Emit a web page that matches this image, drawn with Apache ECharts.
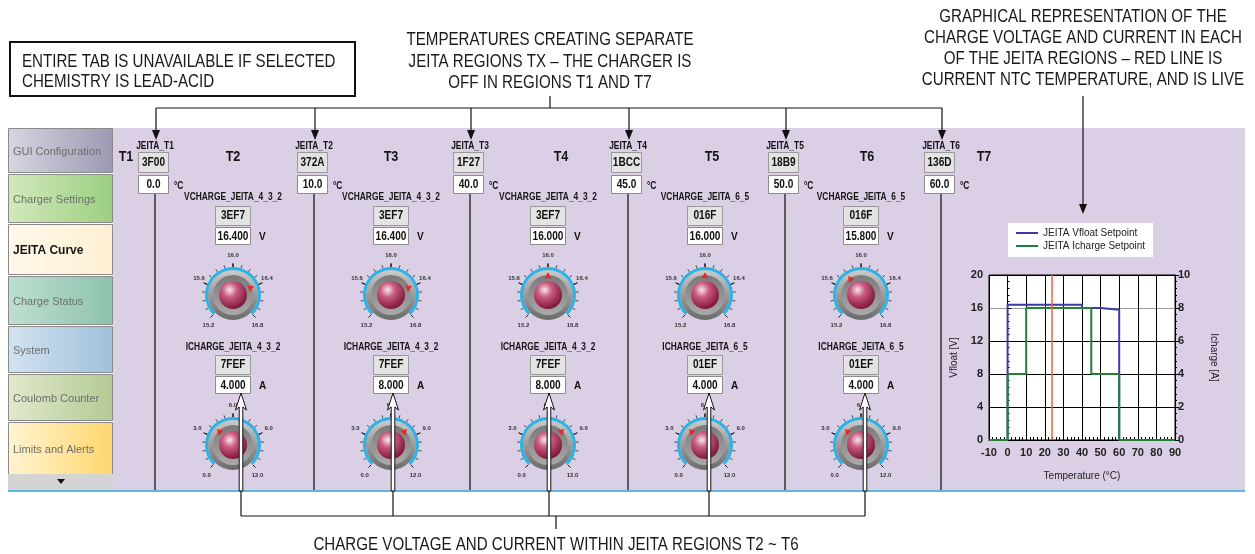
<!DOCTYPE html>
<html>
<head>
<meta charset="utf-8">
<title>JEITA Curve</title>
<script src="https://cdn.jsdelivr.net/npm/echarts@6/dist/echarts.min.js"></script>
<style>
  html, body { margin: 0; padding: 0; background: #fff; }
  #main { width: 1255px; height: 554px; }
</style>
</head>
<body>
<div id="main"></div>
<script>
// JEITA temperature thresholds (T1..T6 boundaries)
const jeitaNames = ['JEITA_T1', 'JEITA_T2', 'JEITA_T3', 'JEITA_T4', 'JEITA_T5', 'JEITA_T6'];
const jeitaHex = ['3F00', '372A', '1F27', '1BCC', '18B9', '136D'];
const jeitaTemps = [0, 10, 40, 45, 50, 60];

// regions
const regionNames = ['T1', 'T2', 'T3', 'T4', 'T5', 'T6', 'T7'];

// charge settings for regions T2..T6
const vchargeNames = ['VCHARGE_JEITA_4_3_2', 'VCHARGE_JEITA_4_3_2', 'VCHARGE_JEITA_4_3_2', 'VCHARGE_JEITA_6_5', 'VCHARGE_JEITA_6_5'];
const vchargeHex = ['3EF7', '3EF7', '3EF7', '016F', '016F'];
const vchargeVals = [16.4, 16.4, 16.0, 16.0, 15.8];
const ichargeNames = ['ICHARGE_JEITA_4_3_2', 'ICHARGE_JEITA_4_3_2', 'ICHARGE_JEITA_4_3_2', 'ICHARGE_JEITA_6_5', 'ICHARGE_JEITA_6_5'];
const ichargeHex = ['7FEF', '7FEF', '7FEF', '01EF', '01EF'];
const ichargeVals = [4, 8, 8, 4, 4];

// live NTC temperature (red line)
const ntcTemp = 24;

// knob scales
const vKnobRange = [15.2, 16.8];
const iKnobRange = [0, 12];

const tabs = ['GUI Configuration', 'Charger Settings', 'JEITA Curve', 'Charge Status', 'System', 'Coulomb Counter', 'Limits and Alerts'];

// ---- layout ----
const SANS = "'Liberation Sans', Arial, sans-serif";
const ANNO = '18px ' + SANS;
const NARROW = 0.84;
const PANEL = '#dbcfe5';

const sepX = [155, 314, 470, 628, 785, 941];
const colX = [233, 391, 548, 705, 861];
const regionX = [126, 233, 391, 561, 712, 867, 984];
const arrowX = [241, 393, 549, 709, 865];
const tabY = [[128, 172], [174, 222], [224, 274], [276, 324], [326, 372], [374, 420], [422, 474]];
const tabColors = [
  ['#d6d6e2', '#9c9ab2'], ['#d2e9bd', '#9ccf80'], ['#fff9ea', '#fdefd2'], ['#bfdfcf', '#8dc2ad'],
  ['#d3e3f0', '#9fc0db'], ['#e0e9cc', '#b4ca94'], ['#fff4d2', '#ffd66c']
];

const g = [];
function rect(x, y, w, h, fill, stroke, lw, z) {
  g.push({ type: 'rect', shape: { x, y, width: w, height: h }, style: { fill, stroke: stroke || null, lineWidth: lw || 1 }, z: z || 0, silent: true });
}
function line(x1, y1, x2, y2, stroke, lw, z) {
  g.push({ type: 'line', shape: { x1, y1, x2, y2 }, style: { stroke, lineWidth: lw || 1 }, z: z || 0, silent: true });
}
function text(x, y, s, font, fill, align, sx, z) {
  g.push({ type: 'text', x, y, scaleX: sx || 1, style: { text: s, font, fill: fill || '#222', align: align || 'center', verticalAlign: 'middle' }, z: z || 1, silent: true });
}
function poly(points, fill, stroke, lw, z) {
  g.push({ type: 'polygon', shape: { points }, style: { fill, stroke: stroke || null, lineWidth: lw || 1 }, z: z || 0, silent: true });
}
function arrowDown(x, y1, tip) {
  line(x, y1, x, tip - 8, '#111', 1.2, 10);
  poly([[x - 4, tip - 10], [x + 4, tip - 10], [x, tip]], '#111', null, 1, 10);
}
function whiteArrowUp(x, tip, end) {
  poly([[x, tip], [x + 5.5, tip + 17], [x + 1.8, tip + 14], [x + 1.8, end], [x - 1.8, end], [x - 1.8, tip + 14], [x - 5.5, tip + 17]], '#fff', '#111', 1, 10);
}
function knobDisk(cx, cy) {
  g.push({ type: 'circle', shape: { cx, cy, r: 25 }, style: { fill: { type: 'linear', x: 0, y: 0, x2: 0, y2: 1, colorStops: [{ offset: 0, color: '#cbcbcb' }, { offset: 1, color: '#6a6a6a' }] } }, z: 2, silent: true });
  g.push({ type: 'circle', shape: { cx, cy, r: 20 }, style: { fill: { type: 'linear', x: 0, y: 0, x2: 0, y2: 1, colorStops: [{ offset: 0, color: '#7a7a7a' }, { offset: 1, color: '#aaaaaa' }] } }, z: 2, silent: true });
}

// annotations
rect(10, 42, 345, 54, '#fff', '#111', 2);
text(22, 62, 'ENTIRE TAB IS UNAVAILABLE IF SELECTED', ANNO, '#1a1a1a', 'left', NARROW);
text(22, 82, 'CHEMISTRY IS LEAD-ACID', ANNO, '#1a1a1a', 'left', NARROW);

text(550, 40, 'TEMPERATURES CREATING SEPARATE', ANNO, '#1a1a1a', 'center', NARROW);
text(550, 62, 'JEITA REGIONS TX – THE CHARGER IS', ANNO, '#1a1a1a', 'center', NARROW);
text(550, 83, 'OFF IN REGIONS T1 AND T7', ANNO, '#1a1a1a', 'center', NARROW);
line(550, 96, 550, 108, '#111', 1.2);
line(sepX[0] + 1, 108, sepX[5] + 1, 108, '#111', 1.2);

text(1083, 17, 'GRAPHICAL REPRESENTATION OF THE', ANNO, '#1a1a1a', 'center', NARROW);
text(1083, 38, 'CHARGE VOLTAGE AND CURRENT IN EACH', ANNO, '#1a1a1a', 'center', NARROW);
text(1083, 59, 'OF THE JEITA REGIONS – RED LINE IS', ANNO, '#1a1a1a', 'center', NARROW);
text(1083, 80, 'CURRENT NTC TEMPERATURE, AND IS LIVE', ANNO, '#1a1a1a', 'center', NARROW);

text(556, 545, 'CHARGE VOLTAGE AND CURRENT WITHIN JEITA REGIONS T2 ~ T6', ANNO, '#1a1a1a', 'center', NARROW);

// panel
rect(113, 128, 1132, 362, PANEL);
rect(8, 490, 1237, 2, '#5db7de');

// tabs
tabs.forEach((t, i) => {
  const [y0, y1] = tabY[i];
  rect(8.5, y0 + 0.5, 104, y1 - y0, { type: 'linear', x: 0, y: 0, x2: 1, y2: 0, colorStops: [{ offset: 0, color: tabColors[i][0] }, { offset: 1, color: tabColors[i][1] }] }, '#8a8a8a', 1);
  const active = t === 'JEITA Curve';
  text(13, (y0 + y1) / 2 + 2, t, (active ? 'bold 12px ' : '11px ') + SANS, active ? '#151515' : '#6e6e6e', 'left');
});
rect(8, 474, 105, 16, '#d4d4d4');
poly([[57, 479], [65, 479], [61, 484]], '#111');

// thresholds
jeitaNames.forEach((n, i) => {
  const sx = sepX[i];
  text(sx, 146, n, 'bold 10px ' + SANS, '#111', 'center', NARROW);
  rect(sx - 16.5, 152.5, 30, 20, '#e3e3e3', '#9a9a9a', 1);
  text(sx - 1.5, 163, jeitaHex[i], 'bold 12px ' + SANS, '#111', 'center', NARROW);
  rect(sx - 16.5, 175.5, 30, 18, '#fff', '#8c8c8c', 1);
  text(sx - 1.5, 185, jeitaTemps[i].toFixed(1), 'bold 12px ' + SANS, '#111', 'center', NARROW);
  text(sx + 19, 186, '°C', 'bold 10px ' + SANS, '#111', 'left', NARROW);
  line(sx, 194, sx, 490, '#5b5b5b', 2);
  arrowDown(sx + 1, 108, 140);
});
regionNames.forEach((r, k) => text(regionX[k], 157, r, 'bold 15px ' + SANS, '#151515', 'center', NARROW));

// region controls
colX.forEach((c, j) => {
  text(c, 197, vchargeNames[j], 'bold 10px ' + SANS, '#151515', 'center', NARROW);
  rect(c - 17.5, 206.5, 35, 19, '#e3e3e3', '#9a9a9a', 1);
  text(c, 216, vchargeHex[j], 'bold 12px ' + SANS, '#111', 'center', NARROW);
  rect(c - 17.5, 227.5, 35, 17, '#fff', '#8c8c8c', 1);
  text(c, 236.5, vchargeVals[j].toFixed(3), 'bold 12px ' + SANS, '#111', 'center', NARROW);
  text(c + 26, 237, 'V', 'bold 10px ' + SANS, '#111', 'left');
  knobDisk(c, 295);

  text(c, 347, ichargeNames[j], 'bold 10px ' + SANS, '#151515', 'center', NARROW);
  rect(c - 17.5, 355.5, 35, 19, '#e3e3e3', '#9a9a9a', 1);
  text(c, 365, ichargeHex[j], 'bold 12px ' + SANS, '#111', 'center', NARROW);
  rect(c - 17.5, 376.5, 35, 17, '#fff', '#8c8c8c', 1);
  text(c, 385.5, ichargeVals[j].toFixed(3), 'bold 12px ' + SANS, '#111', 'center', NARROW);
  text(c + 26, 386, 'A', 'bold 10px ' + SANS, '#111', 'left');
  knobDisk(c, 445);
});

// bottom annotation arrows
arrowX.forEach(x => {
  whiteArrowUp(x, 393, 491);
  line(x, 491, x, 516, '#111', 1.2, 10);
});
line(arrowX[0], 516, arrowX[4], 516, '#111', 1.2, 10);
line(556, 516, 556, 529, '#111', 1.2, 10);

// right annotation arrow
arrowDown(1083, 96, 214);

// ---- series ----
function stepData(vals) {
  const pts = [[-10, 0], [jeitaTemps[0], 0]];
  vals.forEach((v, i) => { pts.push([jeitaTemps[i], v], [jeitaTemps[i + 1], v]); });
  pts.push([jeitaTemps[jeitaTemps.length - 1], 0], [90, 0]);
  return pts;
}

const ballGrad = {
  type: 'radial', x: 0.38, y: 0.32, r: 0.75,
  colorStops: [{ offset: 0, color: '#f7e6ec' }, { offset: 0.35, color: '#c95a80' }, { offset: 1, color: '#740d2e' }]
};

function knob(cx, cy, range, value) {
  return {
    type: 'gauge', z: 3, center: [cx, cy], radius: 28,
    startAngle: 225, endAngle: -45, min: range[0], max: range[1], splitNumber: 4,
    axisLine: { lineStyle: { width: 3, color: [[1, '#2bb3e6']] } },
    splitLine: { distance: -7, length: 4, lineStyle: { color: '#222', width: 1 } },
    axisTick: { splitNumber: 4, distance: -6, length: 3, lineStyle: { color: '#222', width: 0.8 } },
    axisLabel: { distance: -12, fontSize: 6, fontWeight: 'bold', color: '#333', formatter: v => v.toFixed(1) },
    pointer: { icon: 'triangle', length: 6, width: 7, offsetCenter: [0, '-60%'], itemStyle: { color: '#e8282c' } },
    anchor: { show: true, showAbove: false, size: 28, itemStyle: { color: ballGrad } },
    title: { show: false }, detail: { show: false },
    data: [{ value }]
  };
}

const series = [
  {
    name: 'JEITA Vfloat Setpoint', type: 'line', z: 4, xAxisIndex: 0, yAxisIndex: 0,
    data: stepData(vchargeVals), symbol: 'none', color: '#3b3ba8', lineStyle: { width: 2 },
    markLine: {
      silent: true, symbol: 'none', label: { show: false },
      lineStyle: { color: '#ff5a36', width: 1.5, type: 'solid' },
      data: [{ xAxis: ntcTemp }]
    }
  },
  {
    name: 'JEITA Icharge Setpoint', type: 'line', z: 4, xAxisIndex: 0, yAxisIndex: 1,
    data: stepData(ichargeVals), symbol: 'none', color: '#22803a', lineStyle: { width: 2 }
  }
];
colX.forEach((c, j) => {
  series.push(knob(c, 295, vKnobRange, vchargeVals[j]));
  series.push(knob(c, 445, iKnobRange, ichargeVals[j]));
});

const axisLbl = { color: '#222', fontWeight: 'bold', fontSize: 11, fontFamily: SANS };

const chart = echarts.init(document.getElementById('main'));
chart.setOption({
  animation: false,
  backgroundColor: '#fff',
  graphic: { elements: g },
  legend: {
    left: 1008, top: 223, orient: 'vertical', z: 5,
    backgroundColor: '#fff', padding: [5, 8, 6, 8], itemGap: 3,
    itemWidth: 22, itemHeight: 2, icon: 'rect',
    textStyle: { fontSize: 10, color: '#222', fontFamily: SANS },
    data: ['JEITA Vfloat Setpoint', 'JEITA Icharge Setpoint']
  },
  grid: { left: 989, top: 275, width: 186, height: 165, show: true, z: 1, backgroundColor: '#fff', borderColor: '#000', borderWidth: 1 },
  xAxis: {
    type: 'value', min: -10, max: 90, interval: 10, z: 2,
    name: 'Temperature (°C)', nameLocation: 'middle', nameGap: 31,
    nameTextStyle: { fontSize: 10, color: '#222', fontFamily: SANS },
    axisLine: { lineStyle: { color: '#000' } },
    axisTick: { inside: true, length: 5, lineStyle: { color: '#000' } },
    minorTick: { show: true, splitNumber: 5, length: 3, lineStyle: { color: '#000' } },
    axisLabel: Object.assign({ margin: 7 }, axisLbl),
    splitLine: { show: true, lineStyle: { color: '#000' } }
  },
  yAxis: [
    {
      type: 'value', min: 0, max: 20, interval: 4, z: 2,
      name: 'Vfloat [V]', nameLocation: 'middle', nameGap: 30,
      nameTextStyle: { fontSize: 10, color: '#222', fontFamily: SANS },
      axisLine: { show: true, lineStyle: { color: '#000' } },
      axisTick: { show: true, inside: true, length: 4, lineStyle: { color: '#000' } },
      minorTick: { show: true, splitNumber: 5, length: 2, lineStyle: { color: '#000' } },
      axisLabel: Object.assign({ margin: 6 }, axisLbl),
      splitLine: { show: true, lineStyle: { color: ['#000', '#000', '#000', '#000', '#999', '#000'] } }
    },
    {
      type: 'value', min: 0, max: 10, interval: 2, position: 'right', z: 2,
      name: 'Icharge [A]', nameLocation: 'middle', nameGap: 34, nameRotate: -90,
      nameTextStyle: { fontSize: 10, color: '#222', fontFamily: SANS },
      axisLine: { show: true, lineStyle: { color: '#000' } },
      axisTick: { show: true, length: 4, lineStyle: { color: '#000' } },
      minorTick: { show: true, splitNumber: 5, length: 2, lineStyle: { color: '#000' } },
      axisLabel: Object.assign({ margin: 3 }, axisLbl),
      splitLine: { show: false }
    }
  ],
  series
});
</script>
</body>
</html>
